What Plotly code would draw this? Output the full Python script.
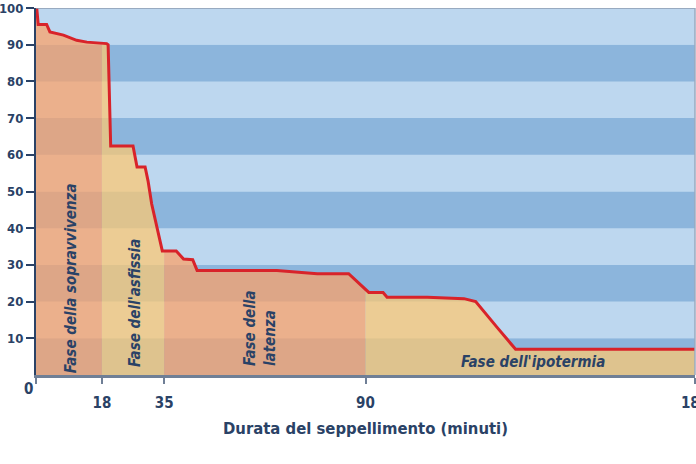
import numpy as np
import plotly.graph_objects as go

# Burial duration (minutes) and survival probability (%)
minutes = [0, 0.2, 0.6, 2.9, 3.8, 7.5, 11.1, 13.9, 19.3, 19.7, 20.4, 26.5, 27.6, 29.8,
           30.6, 31.6, 34.5, 38.3, 40.3, 42.8, 44.0, 65.8, 76.8, 85.4, 90.9, 94.8,
           95.9, 106.9, 116.9, 120.1, 126.0, 131.0, 180]
survival = [100, 100, 95.5, 95.5, 93.5, 92.6, 91.2, 90.7, 90.3, 90.0, 62.4, 62.4, 56.7, 56.7,
            52.9, 46.6, 33.8, 33.8, 31.6, 31.4, 28.5, 28.5, 27.6, 27.6, 22.5, 22.5,
            21.2, 21.2, 20.8, 20.0, 12.9, 7.0, 7.0]

phase_names = ["Fase della sopravvivenza", "Fase dell'asfissia", "Fase della<br>latenza", "Fase dell'ipotermia"]
phase_bounds = [0, 18, 35, 90, 180]
phase_colors = ["rgba(255,160,98,0.70)", "rgba(255,200,110,0.71)",
                "rgba(255,160,98,0.70)", "rgba(255,200,110,0.71)"]

x_ticks = [0, 18, 35, 90, 180]
x_ticktext = ["", "18", "35", "90", "180"]
y_ticks = [10, 20, 30, 40, 50, 60, 70, 80, 90, 100]

NAVY = "#2a4266"
FONT_C = "DejaVu Sans Condensed, Liberation Sans Narrow, sans-serif"

t = np.array(minutes, dtype=float)
s = np.array(survival, dtype=float)

fig = go.Figure()

# phase fills under the curve
for i in range(4):
    a, b = phase_bounds[i], phase_bounds[i + 1]
    inner = t[(t > a) & (t < b)]
    xs = np.concatenate([[a], inner, [b]])
    ys = np.interp(xs, t, s)
    fig.add_trace(go.Scatter(x=xs, y=ys, mode="lines", line=dict(width=0),
                             fill="tozeroy", fillcolor=phase_colors[i],
                             hoverinfo="skip", showlegend=False))

# survival curve
fig.add_trace(go.Scatter(x=minutes, y=survival, mode="lines",
                         line=dict(color="#d8232a", width=3), showlegend=False))

# background stripes
shapes = []
for k in range(10):
    y0, y1 = k * 10, (k + 1) * 10
    col = "#8cb5dc" if k % 2 == 0 else "#bdd7ef"
    shapes.append(dict(type="rect", xref="paper", yref="y", x0=0, x1=1, y0=y0, y1=y1,
                       fillcolor=col, line=dict(width=0), layer="below"))
shapes.append(dict(type="line", xref="paper", yref="y", x0=0, x1=1, y0=100, y1=100,
                   line=dict(color="#8d9bb0", width=1.5)))
shapes.append(dict(type="line", xref="paper", yref="paper", x0=1, x1=1, y0=0, y1=1,
                   line=dict(color="#9aaabf", width=1.5)))

annotations = [
    dict(x=9.6, y=26.4, text="<i>" + phase_names[0] + "</i>", textangle=-90),
    dict(x=27.0, y=19.6, text="<i>" + phase_names[1] + "</i>", textangle=-90),
    dict(x=61.2, y=12.8, text="<i>" + phase_names[2] + "</i>", textangle=-90, align="left"),
    dict(x=135.8, y=3.5, text="<i>" + phase_names[3] + "</i>", textangle=0),
]
for an in annotations:
    an.update(xref="x", yref="y", showarrow=False,
              font=dict(family=FONT_C, size=15, color=NAVY, weight="bold"))
annotations.append(dict(x=0, y=0, xref="x", yref="y", text="0", showarrow=False,
                        xshift=-8, yshift=-14,
                        font=dict(family=FONT_C, size=15, color=NAVY, weight="bold")))

fig.update_layout(
    width=696, height=464,
    margin=dict(l=36, r=1, t=8, b=89),
    paper_bgcolor="white", plot_bgcolor="#bdd7ef",
    shapes=shapes, annotations=annotations,
    xaxis=dict(range=[0, 180], tickvals=x_ticks, ticktext=x_ticktext,
               ticks="outside", ticklen=6, tickwidth=1.5, tickcolor="#6f7f96",
               showline=True, linecolor="#6f7f96", linewidth=2.5, showgrid=False,
               zeroline=False, ticklabelstandoff=6, ticklabeloverflow="allow",
               automargin=False,
               tickfont=dict(family=FONT_C, size=15, color=NAVY, weight="bold"),
               title=dict(text="Durata del seppellimento (minuti)", standoff=12,
                          font=dict(family=FONT_C, size=16.5, color=NAVY, weight="bold"))),
    yaxis=dict(range=[0, 100], tickvals=y_ticks, ticks="outside", ticklen=8,
               tickwidth=1.5, tickcolor=NAVY, showline=True, linecolor=NAVY,
               linewidth=2, showgrid=False, zeroline=False, ticklabeloverflow="allow",
               automargin=False,
               tickfont=dict(family=FONT_C, size=13, color=NAVY, weight="bold")),
)

fig.write_html("out.html")
